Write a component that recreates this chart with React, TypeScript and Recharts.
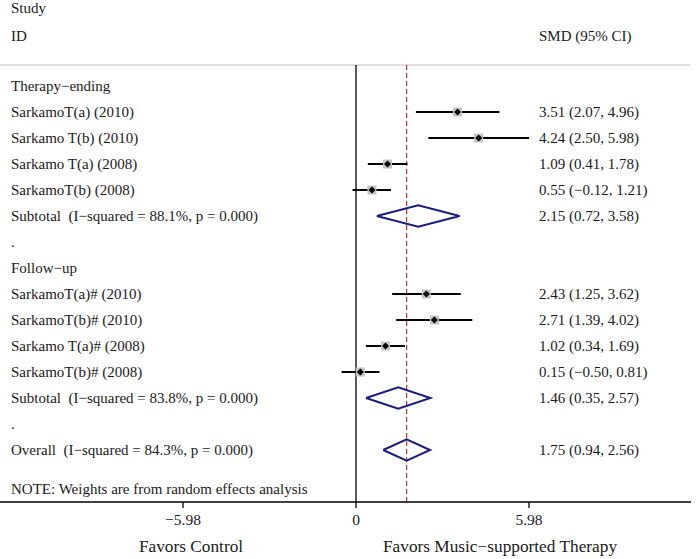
import { ComposedChart, Scatter, ErrorBar, XAxis, YAxis, ReferenceLine } from 'recharts'

// study rows
const studyLabels = [
  'SarkamoT(a) (2010)',
  'Sarkamo T(b) (2010)',
  'Sarkamo T(a) (2008)',
  'SarkamoT(b) (2008)',
  'SarkamoT(a)# (2010)',
  'SarkamoT(b)# (2010)',
  'Sarkamo T(a)# (2008)',
  'SarkamoT(b)# (2008)',
]
const studyRows = [1, 2, 3, 4, 8, 9, 10, 11]
const smd = [3.51, 4.24, 1.09, 0.55, 2.43, 2.71, 1.02, 0.15]
const lower = [2.07, 2.5, 0.41, -0.12, 1.25, 1.39, 0.34, -0.5]
const upper = [4.96, 5.98, 1.78, 1.21, 3.62, 4.02, 1.69, 0.81]

// pooled estimates
const pooledLabels = [
  'Subtotal  (I\u2212squared = 88.1%, p = 0.000)',
  'Subtotal  (I\u2212squared = 83.8%, p = 0.000)',
  'Overall  (I\u2212squared = 84.3%, p = 0.000)',
]
const pooledRows = [5, 12, 14]
const pooledEst = [2.15, 1.46, 1.75]
const pooledLower = [0.72, 0.35, 0.94]
const pooledUpper = [3.58, 2.57, 2.56]

// other text rows
const extraRows: { row: number; left: string; right?: string }[] = [
  { row: -3, left: 'Study' },
  { row: -1.92, left: 'ID', right: 'SMD (95% CI)' },
  { row: 0, left: 'Therapy\u2212ending' },
  { row: 6, left: '.' },
  { row: 7, left: 'Follow\u2212up' },
  { row: 13, left: '.' },
  { row: 15.5, left: 'NOTE: Weights are from random effects analysis' },
]

const xTicks = [-5.98, 0, 5.98]

const FONT = '"Liberation Serif", "Times New Roman", serif'

function fmtNum(v: number) {
  return v < 0 ? '\u2212' + Math.abs(v).toFixed(2) : v.toFixed(2)
}
function ciText(e: number, l: number, u: number) {
  return `${fmtNum(e)} (${fmtNum(l)}, ${fmtNum(u)})`
}

const labelMap = new Map<number, { left: string; right?: string }>()
extraRows.forEach((r) => labelMap.set(r.row, { left: r.left, right: r.right }))
studyRows.forEach((r, i) =>
  labelMap.set(r, { left: studyLabels[i], right: ciText(smd[i], lower[i], upper[i]) })
)
pooledRows.forEach((r, i) =>
  labelMap.set(r, { left: pooledLabels[i], right: ciText(pooledEst[i], pooledLower[i], pooledUpper[i]) })
)
const yTicks = Array.from(labelMap.keys()).sort((a, b) => a - b)

const studyData = smd.map((v, i) => ({
  x: v,
  y: studyRows[i],
  err: [v - lower[i], upper[i] - v],
}))

const diamondData = pooledEst.map((e, i) => {
  const r = pooledRows[i]
  return [
    { x: pooledLower[i], y: r },
    { x: e, y: r - 0.41 },
    { x: pooledUpper[i], y: r },
    { x: e, y: r + 0.41 },
    { x: pooledLower[i], y: r },
  ]
})

const overall = pooledEst[2]

function RowTick({ y, payload }: { y?: number; payload?: { value: number } }) {
  const item = labelMap.get(payload!.value)
  if (!item) return <g />
  return (
    <g>
      <text x={11} y={y} dy="0.35em" textAnchor="start" fontFamily={FONT} fontSize={15} fill="#1a1a1a" style={{ whiteSpace: 'pre' }}>
        {item.left}
      </text>
      {item.right && (
        <text x={539} y={y} dy="0.35em" textAnchor="start" fontFamily={FONT} fontSize={15} fill="#1a1a1a">
          {item.right}
        </text>
      )}
    </g>
  )
}

function StudyPoint({ cx, cy }: { cx?: number; cy?: number }) {
  if (cx == null || cy == null) return <g />
  return (
    <g>
      <rect x={cx - 4.5} y={cy - 4.5} width={9} height={9} fill="#c4c4c4" />
      <path d={`M${cx - 3.5},${cy} L${cx},${cy - 3.5} L${cx + 3.5},${cy} L${cx},${cy + 3.5} Z`} fill="#000" />
    </g>
  )
}

function FavorsLabel() {
  return (
    <g fontFamily={FONT} fontSize={17.3} fill="#1a1a1a">
      <text x={191} y={552} textAnchor="middle">Favors Control</text>
      <text x={500} y={552} textAnchor="middle">{'Favors Music\u2212supported Therapy'}</text>
    </g>
  )
}

export default function App() {
  return (
    <div style={{ position: 'absolute', left: 0, top: 0, background: '#fff' }}>
      <ComposedChart width={697} height={559} margin={{ top: 0, right: 6, left: -1, bottom: 0 }}>
        <XAxis
          type="number"
          dataKey="x"
          domain={[-12.306, 11.58]}
          allowDataOverflow
          ticks={xTicks}
          tickFormatter={(v: number) => (v === 0 ? '0' : fmtNum(v))}
          height={57}
          stroke="#000"
          strokeWidth={1.3}
          tickSize={6}
          tickMargin={6}
          tick={{ fontFamily: FONT, fontSize: 15.5, fill: '#1a1a1a' }}
          label={<FavorsLabel />}
        />
        <YAxis
          type="number"
          dataKey="y"
          domain={[-3.31, 16]}
          reversed
          allowDataOverflow
          width={1}
          ticks={yTicks}
          interval={0}
          axisLine={false}
          tickLine={false}
          tick={<RowTick />}
        />
        <ReferenceLine y={-0.81} stroke="#c8c0c0" strokeWidth={1.2} />
        <ReferenceLine
          segment={[{ x: 0, y: -0.81 }, { x: 0, y: 16 }]}
          stroke="#000"
          strokeWidth={1.3}
        />
        <ReferenceLine
          segment={[{ x: overall, y: -0.81 }, { x: overall, y: 16 }]}
          stroke="#b8383c"
          strokeWidth={1.2}
          strokeDasharray="5 3"
        />
        <Scatter data={studyData} isAnimationActive={false} shape={<StudyPoint />}>
          <ErrorBar dataKey="err" direction="x" width={0} stroke="#000" strokeWidth={2} />
        </Scatter>
        {diamondData.map((d, i) => (
          <Scatter
            key={i}
            data={d}
            isAnimationActive={false}
            line={{ stroke: '#1c1c80', strokeWidth: 2 }}
            shape={() => <g />}
          />
        ))}
      </ComposedChart>
    </div>
  )
}
